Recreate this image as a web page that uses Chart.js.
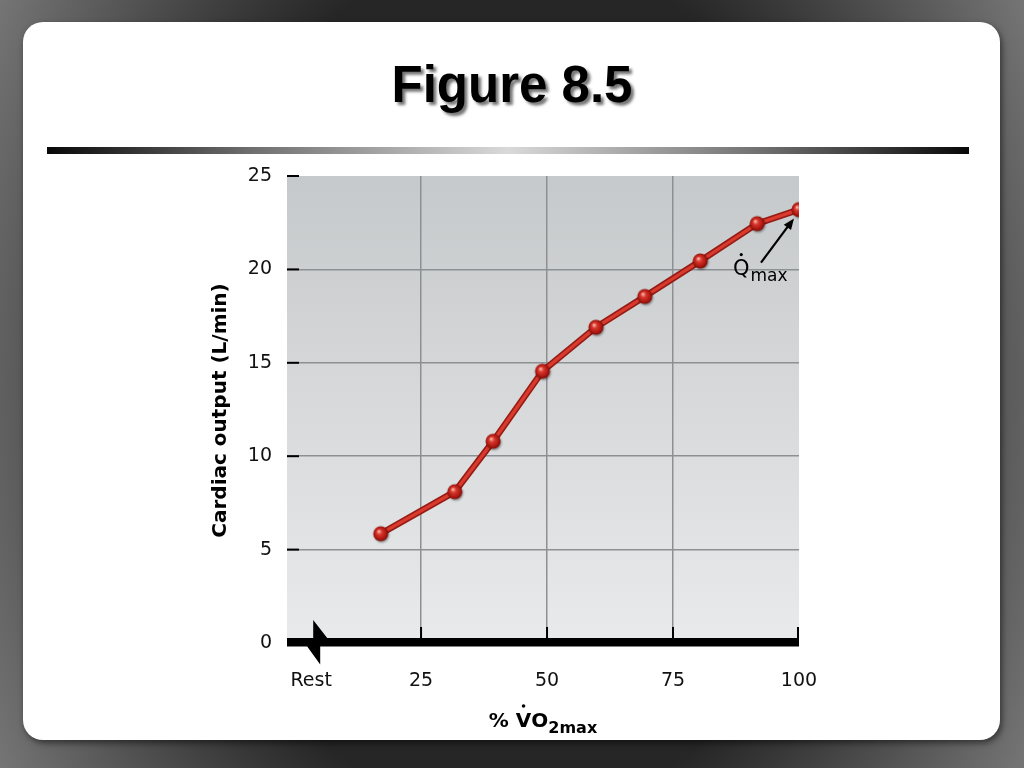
<!DOCTYPE html>
<html>
<head>
<meta charset="utf-8">
<title>Figure 8.5</title>
<script src="https://cdn.jsdelivr.net/npm/chart.js@4.4.0/dist/chart.umd.min.js"></script>
<style>
  html, body { margin: 0; padding: 0; width: 1024px; height: 768px; overflow: hidden; }
  body {
    position: relative;
    background: radial-gradient(ellipse 62% 115% at 50% 50%, #262626 50%, #858585 100%);
    font-family: "Liberation Sans", Arial, sans-serif;
  }
  .card {
    position: absolute; left: 23px; top: 22px; width: 977px; height: 718px;
    background: #fff; border-radius: 20px;
    box-shadow: 2px 3px 6px rgba(0, 0, 0, 0.5);
  }
  h1 {
    position: absolute; left: 0; top: 59px; width: 1024px; margin: 0;
    text-align: center; font: bold 51px/51px "Liberation Sans", Arial, sans-serif;
    color: #000; text-shadow: 3px 3px 3px rgba(0, 0, 0, 0.55);
  }
  .rule {
    position: absolute; left: 47px; top: 147px; width: 922px; height: 7px;
    background: linear-gradient(90deg, #080808 0%, #6e6e6e 22%, #d9d9d9 50%, #6e6e6e 78%, #080808 100%);
  }
  canvas { position: absolute; left: 0; top: 0; }
</style>
</head>
<body>
<div class="card"></div>
<h1>Figure 8.5</h1>
<div class="rule"></div>
<canvas id="grafico" width="1024" height="768"></canvas>
<script>
// % VO2max and cardiac output (L/min)
const vo2Percent = [17, 31.7, 39.3, 49.1, 59.7, 69.4, 80.4, 91.7, 100];
const cardiacOutput = [5.85, 8.1, 10.8, 14.55, 16.9, 18.55, 20.45, 22.45, 23.2];

const xTickValues = [3.2, 25, 50, 75, 100];
const xTickLabels = ['Rest', '25', '50', '75', '100'];
const yTickValues = [0, 5, 10, 15, 20, 25];

// sphere used as point marker
function makeSphere() {
  const c = document.createElement('canvas');
  c.width = 22; c.height = 22;
  const g = c.getContext('2d');
  g.shadowColor = 'rgba(0,0,0,0.35)';
  g.shadowBlur = 2;
  g.shadowOffsetX = 1;
  g.shadowOffsetY = 1.5;
  const grad = g.createRadialGradient(9, 8.5, 0.5, 11, 11, 8);
  grad.addColorStop(0, '#f6b0a4');
  grad.addColorStop(0.3, '#d9362c');
  grad.addColorStop(0.75, '#a81710');
  grad.addColorStop(1, '#6c0a06');
  g.fillStyle = grad;
  g.beginPath();
  g.arc(11, 11, 7.5, 0, Math.PI * 2);
  g.fill();
  return c;
}
const sphere = makeSphere();

const plotBackground = {
  id: 'plotBackground',
  beforeDraw(chart) {
    const { ctx, chartArea: a } = chart;
    const grad = ctx.createLinearGradient(0, a.top, 0, a.bottom);
    grad.addColorStop(0, '#c6c9cb');
    grad.addColorStop(1, '#e9eaeb');
    ctx.save();
    ctx.fillStyle = grad;
    ctx.fillRect(a.left, a.top, a.right - a.left, a.bottom - a.top);
    ctx.restore();
  }
};

const axisDecor = {
  id: 'axisDecor',
  afterDraw(chart) {
    const { ctx, chartArea: a } = chart;
    const xs = chart.scales.x, ys = chart.scales.y;
    const y0 = ys.getPixelForValue(0);
    const T = y0 - 5, B = y0 + 3.5;
    const bx = xs.getPixelForValue(3.6);
    ctx.save();

    // thick x axis with break
    ctx.fillStyle = '#000';
    ctx.beginPath();
    ctx.moveTo(a.left, T);
    ctx.lineTo(bx, T);
    ctx.lineTo(bx, T - 18);
    ctx.lineTo(bx + 14, T);
    ctx.lineTo(a.right, T);
    ctx.lineTo(a.right, B);
    ctx.lineTo(bx + 7, B);
    ctx.lineTo(bx + 7, B + 18);
    ctx.lineTo(bx - 6, B);
    ctx.lineTo(a.left, B);
    ctx.closePath();
    ctx.fill();

    // x ticks pointing up
    ctx.strokeStyle = '#000';
    ctx.lineWidth = 2;
    xTickValues.forEach(v => {
      if (v < 25) return;
      const px = Math.min(xs.getPixelForValue(v), a.right - 1);
      ctx.beginPath();
      ctx.moveTo(px, T);
      ctx.lineTo(px, T - 11);
      ctx.stroke();
    });

    // y ticks
    yTickValues.forEach(v => {
      if (v === 0) return;
      const py = ys.getPixelForValue(v);
      ctx.beginPath();
      ctx.moveTo(a.left, py);
      ctx.lineTo(a.left + 12, py);
      ctx.stroke();
    });

    // y axis title
    ctx.fillStyle = '#000';
    ctx.font = 'bold 20px "DejaVu Sans"';
    ctx.textAlign = 'center';
    ctx.textBaseline = 'alphabetic';
    ctx.save();
    ctx.translate(226, (a.top + a.bottom) / 2 + 1);
    ctx.rotate(-Math.PI / 2);
    ctx.fillText('Cardiac output (L/min)', 0, 0);
    ctx.restore();

    // x axis title: % VO2max with dot over V
    ctx.textAlign = 'left';
    const big = 'bold 20px "DejaVu Sans"', small = 'bold 16px "DejaVu Sans"';
    ctx.font = big;
    const pre = '% ', v = 'V', o = 'O';
    const wPre = ctx.measureText(pre).width;
    const wV = ctx.measureText(v).width;
    const wO = ctx.measureText(o).width;
    ctx.font = small;
    const wSub = ctx.measureText('2max').width;
    let tx = (a.left + a.right) / 2 - (wPre + wV + wO + wSub) / 2;
    ctx.font = big;
    ctx.fillText(pre, tx, 727);
    ctx.fillText(v, tx + wPre, 727);
    ctx.beginPath();
    ctx.arc(tx + wPre + wV / 2, 706, 1.8, 0, Math.PI * 2);
    ctx.fill();
    ctx.fillText(o, tx + wPre + wV, 727);
    ctx.font = small;
    ctx.fillText('2max', tx + wPre + wV + wO, 733);

    // Qmax label with arrow to last point
    const meta = chart.getDatasetMeta(0);
    const last = meta.data[meta.data.length - 1];
    const tipX = last.x - 5, tipY = last.y + 9;
    const tailX = last.x - 38, tailY = last.y + 53;
    ctx.lineWidth = 2.2;
    ctx.beginPath();
    ctx.moveTo(tailX, tailY);
    ctx.lineTo(tipX - 4, tipY + 5);
    ctx.stroke();
    const ang = Math.atan2(tipY - tailY, tipX - tailX);
    ctx.beginPath();
    ctx.moveTo(tipX, tipY);
    ctx.lineTo(tipX - 11 * Math.cos(ang) + 4.5 * Math.sin(ang), tipY - 11 * Math.sin(ang) - 4.5 * Math.cos(ang));
    ctx.lineTo(tipX - 11 * Math.cos(ang) - 4.5 * Math.sin(ang), tipY - 11 * Math.sin(ang) + 4.5 * Math.cos(ang));
    ctx.closePath();
    ctx.fill();

    ctx.font = '21px "DejaVu Sans"';
    const qx = last.x - 66, qy = last.y + 65;
    const wQ = ctx.measureText('Q').width;
    ctx.fillText('Q', qx, qy);
    ctx.beginPath();
    ctx.arc(qx + wQ / 2, qy - 20, 1.6, 0, Math.PI * 2);
    ctx.fill();
    ctx.font = '17px "DejaVu Sans"';
    ctx.fillText('max', qx + wQ + 1, qy + 6);

    ctx.restore();
  }
};

const tickFont = { family: 'DejaVu Sans', size: 19 };

const chartCardiac = new Chart(document.getElementById('grafico'), {
  type: 'line',
  data: {
    labels: vo2Percent,
    datasets: [
      {
        label: 'Cardiac output',
        data: vo2Percent.map((x, i) => ({ x: x, y: cardiacOutput[i] })),
        borderColor: '#da3a2e',
        borderWidth: 3.2,
        tension: 0,
        pointStyle: sphere,
        pointRadius: 7,
        order: 0
      },
      {
        label: 'outline',
        data: vo2Percent.map((x, i) => ({ x: x, y: cardiacOutput[i] })),
        borderColor: '#951c14',
        borderWidth: 6.5,
        tension: 0,
        pointRadius: 0,
        order: 1
      }
    ]
  },
  options: {
    responsive: false,
    animation: false,
    devicePixelRatio: 1,
    layout: { padding: { top: 176, right: 225, left: 0, bottom: 0 } },
    plugins: {
      legend: { display: false },
      tooltip: { enabled: false }
    },
    scales: {
      x: {
        type: 'linear',
        min: -1.6,
        max: 100,
        afterBuildTicks: s => { s.ticks = xTickValues.map(v => ({ value: v })); },
        afterFit: s => { s.height = 125; },
        ticks: {
          autoSkip: false,
          maxRotation: 0,
          padding: 27,
          color: '#111',
          font: tickFont,
          callback: (v, i) => xTickLabels[i]
        },
        grid: {
          drawTicks: false,
          lineWidth: 1.5,
          color: c => (c.tick && c.tick.value >= 25 && c.tick.value < 100) ? '#8d9093' : 'rgba(0,0,0,0)'
        },
        border: { display: false }
      },
      y: {
        min: 0,
        max: 25,
        afterBuildTicks: s => { s.ticks = yTickValues.map(v => ({ value: v })); },
        afterFit: s => { s.width = 287; },
        ticks: {
          padding: 15,
          color: '#111',
          font: tickFont
        },
        grid: {
          drawTicks: false,
          lineWidth: 1.5,
          color: c => (c.tick && c.tick.value > 0 && c.tick.value < 25) ? '#8d9093' : 'rgba(0,0,0,0)'
        },
        border: { display: false }
      }
    }
  },
  plugins: [plotBackground, axisDecor]
});
</script>
</body>
</html>
